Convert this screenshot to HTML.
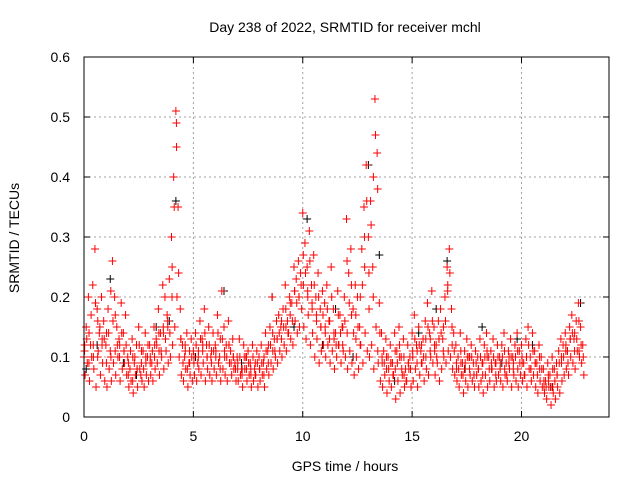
<!DOCTYPE html>
<html><head><meta charset="utf-8"><style>
body{margin:0;background:#fff;}
svg{display:block;font-family:"Liberation Sans",sans-serif;}
</style></head><body>
<svg id="chart" width="640" height="480" viewBox="0 0 640 480">
<text x="345" y="32" font-size="14" text-anchor="middle" fill="#000">Day 238 of 2022, SRMTID for receiver mchl</text>
<text x="345" y="471" font-size="14" text-anchor="middle" fill="#000">GPS time / hours</text>
<text transform="translate(19,238) rotate(-90)" font-size="14" text-anchor="middle" fill="#000">SRMTID / TECUs</text>
<g id="grid"></g>
<g id="ticks"></g>
<g id="marks"></g>
<rect x="84" y="57" width="525" height="360" fill="none" stroke="#000" stroke-width="1"/>
</svg>
<script>
const xTicks=[0,5,10,15,20];
const yTicks=[0,0.1,0.2,0.3,0.4,0.5,0.6];
const yTickLabels=["0","0.1","0.2","0.3","0.4","0.5","0.6"];
const redA=[.10,.15,.20,.12,.22,.28,.18,.14,.20,.16,
.12,.18,.11,.26,.20,.15,.13,.19,.14,.17,
.10,.08,.13,.09,.12,.15,.07,.11,.14,.10,
.12,.09,.15,.13,.18,.14,.22,.20,.17,.23,
.30,.40,.51,.35,.18,.12,.10,.14,.09,.13,
.11,.14,.09,.16,.13,.18,.12,.15,.10,.14,
.12,.17,.10,.21,.15,.12,.16,.11,.13,.09,
.10,.13,.08,.12,.10,.11,.09,.12,.08,.11,
.10,.12,.09,.14,.11,.15,.20,.13,.16,.17,
.15,.18,.22,.16,.20,.19,.25,.23,.26,.24,
.34,.29,.25,.31,.22,.27,.20,.24,.18,.21,
.19,.22,.16,.25,.18,.14,.21,.17,.15,.20,
.33,.24,.28,.18,.22,.20,.15,.28,.35,.42,
.30,.36,.25,.53,.44,.19,.14,.11,.13,.10,
.12,.09,.14,.11,.15,.10,.13,.08,.12,.10,
.14,.17,.12,.15,.11,.13,.16,.19,.14,.21,
.15,.12,.16,.18,.13,.20,.25,.28,.18,.14,
.12,.10,.14,.09,.11,.13,.10,.12,.09,.11,
.10,.13,.09,.12,.14,.10,.11,.13,.09,.12,
.10,.12,.14,.09,.11,.13,.10,.12,.14,.11,
.12,.09,.13,.15,.10,.14,.11,.09,.12,.10,
.08,.06,.09,.07,.10,.08,.09,.11,.13,.12,
.14,.11,.15,.17,.13,.16,.19,.15,.12];
const redB=[.07,.09,.06,.10,.08,.05,.11,.07,.09,.06,
.05,.08,.06,.09,.07,.10,.06,.08,.09,.07,
.05,.06,.04,.07,.05,.08,.06,.05,.07,.06,
.07,.06,.08,.09,.07,.10,.08,.11,.09,.10,
.12,.15,.20,.10,.07,.06,.08,.05,.07,.06,
.07,.06,.08,.07,.09,.06,.08,.07,.06,.08,
.07,.09,.06,.08,.07,.06,.09,.07,.08,.06,
.06,.07,.05,.08,.06,.07,.05,.06,.07,.05,
.06,.07,.05,.08,.07,.09,.08,.10,.09,.11,
.10,.12,.11,.14,.13,.12,.16,.14,.15,.18,
.15,.13,.17,.12,.14,.10,.13,.09,.11,.12,
.10,.12,.09,.11,.08,.10,.12,.09,.11,.10,
.08,.11,.09,.07,.10,.08,.12,.09,.14,.11,
.10,.12,.08,.15,.09,.06,.05,.07,.04,.06,
.05,.07,.03,.06,.04,.07,.05,.06,.08,.05,
.06,.08,.05,.07,.09,.06,.08,.07,.10,.09,
.07,.09,.06,.08,.10,.09,.11,.10,.08,.07,
.06,.05,.07,.04,.06,.05,.07,.06,.05,.07,
.05,.06,.04,.07,.05,.06,.08,.05,.06,.07,
.06,.05,.07,.06,.08,.05,.07,.06,.05,.07,
.06,.07,.05,.08,.06,.07,.05,.04,.06,.05,
.04,.03,.05,.02,.04,.03,.05,.04,.06,.07,
.08,.07,.10,.09,.08,.11,.10,.09,.07];
const redD=[.11,.13,.09,.17,.12,.19,.10,.15,.12,.13,
.09,.14,.21,.16,.11,.12,.10,.14,.11,.12,
.07,.11,.06,.10,.08,.12,.09,.08,.10,.12,
.09,.11,.10,.12,.14,.11,.15,.13,.16,.14,
.20,.35,.49,.24,.13,.09,.12,.08,.11,.10,
.09,.12,.10,.13,.11,.14,.10,.12,.09,.11,
.10,.14,.08,.13,.11,.10,.12,.09,.10,.08,
.08,.10,.07,.10,.08,.09,.08,.10,.07,.09,
.08,.09,.07,.11,.09,.12,.14,.11,.13,.14,
.13,.15,.18,.14,.17,.16,.21,.19,.20,.22,
.27,.24,.21,.26,.19,.22,.17,.20,.15,.17,
.15,.18,.13,.20,.14,.12,.17,.14,.12,.16,
.26,.19,.22,.14,.17,.15,.12,.22,.30,.36,
.24,.32,.20,.47,.38,.14,.10,.09,.10,.08,
.09,.07,.11,.09,.12,.08,.10,.06,.09,.08,
.11,.13,.09,.12,.09,.10,.13,.15,.11,.16,
.12,.10,.13,.14,.11,.16,.21,.24,.15,.11,
.09,.08,.11,.07,.09,.10,.08,.10,.07,.09,
.08,.10,.07,.10,.11,.08,.09,.10,.07,.10,
.08,.10,.11,.07,.09,.10,.08,.10,.11,.09,
.10,.07,.10,.12,.08,.11,.09,.07,.10,.08,
.06,.05,.07,.05,.08,.06,.07,.09,.10,.10,
.11,.09,.13,.14,.11,.13,.16,.12,.10];
const redC=[.12,.14,.10,.16,.13, .14,.10,.17,.12,.11, .09,.10,.08,.11,.09, .10,.12,.11,.14,.15,
.25,.45,.13,.11,.09, .10,.11,.12,.10,.11, .11,.13,.10,.12,.10, .09,.08,.10,.07,.09,
.08,.10,.12,.11,.13, .16,.15,.19,.21,.20, .22,.20,.18,.16,.15, .14,.16,.13,.12,.15,
.14,.17,.13,.20,.25, .18,.40,.11,.09,.08, .09,.08,.10,.07,.09, .10,.11,.12,.10,.13,
.11,.13,.15,.22,.12, .08,.09,.08,.10,.07, .08,.09,.10,.08,.09, .09,.08,.10,.09,.08,
.09,.10,.08,.09,.08, .05,.06,.05,.07,.09, .12,.13,.14,.11];
const blackHours=[0.1,0.6,1.2,1.8,2.4,3.3,3.9,4.2,5.1,6.4,7.2,8.6,9.6,10.2,10.9,11.5,12.3,13.0,13.5,14.2,15.3,16.1,16.6,17.4,18.2,19.1,19.8,20.5,21.4,22.1,22.7];
const blackValues=[.08,.12,.23,.09,.07,.15,.16,.36,.10,.21,.09,.20,.15,.33,.12,.18,.10,.42,.27,.06,.14,.18,.26,.08,.15,.09,.13,.12,.05,.11,.19];

const x=h=>84+h*525/24;
const y=v=>417-v*600;
const NS="http://www.w3.org/2000/svg";
const grid=document.getElementById('grid'),ticks=document.getElementById('ticks'),marks=document.getElementById('marks');
function line(g,x1,y1,x2,y2,st,dash){const l=document.createElementNS(NS,'line');l.setAttribute('x1',x1);l.setAttribute('y1',y1);l.setAttribute('x2',x2);l.setAttribute('y2',y2);l.setAttribute('stroke',st);if(dash)l.setAttribute('stroke-dasharray',dash);g.appendChild(l);return l;}
function txt(s,tx,ty,anchor){const t=document.createElementNS(NS,'text');t.setAttribute('x',tx);t.setAttribute('y',ty);t.setAttribute('font-size','14');t.setAttribute('text-anchor',anchor);t.setAttribute('fill','#000');t.textContent=s;ticks.appendChild(t);return t;}
xTicks.forEach(v=>{const px=x(v);
 if(v>0){const g=line(grid,px,57,px,417,'#a0a0a0','2,3');}
 line(ticks,px,417,px,411,'#000');line(ticks,px,57,px,63,'#000');
 const t=txt(String(v),px,441,'middle');
 
 });
yTicks.forEach((v,i)=>{const py=y(v);
 if(v>0&&v<0.6){const g=line(grid,84,py,609,py,'#a0a0a0','2,3');}
 line(ticks,84,py,90,py,'#000');line(ticks,609,py,603,py,'#000');
 const t=txt(yTickLabels[i],70,py+5,'end');
 
 });
function cross(h,v,col,name){const px=x(h),py=y(v);const p=document.createElementNS(NS,'path');
 p.setAttribute('d',`M${px-4},${py}H${px+4}M${px},${py-4}V${py+4}`);p.setAttribute('stroke',col);p.setAttribute('stroke-width','1');
 
 
 marks.appendChild(p);}
blackValues.forEach((v,i)=>cross(blackHours[i],v,'#000','black-point'));
redA.forEach((v,i)=>cross(i*0.1,v,'#ff0000','red-point'));
redB.forEach((v,i)=>cross(i*0.1+0.05,v,'#ff0000','red-point'));
redD.forEach((v,i)=>cross(i*0.1+0.025,v,'#ff0000','red-point'));
redC.forEach((v,i)=>cross(i*0.2+0.03,v,'#ff0000','red-point'));
</script>
</body></html>
